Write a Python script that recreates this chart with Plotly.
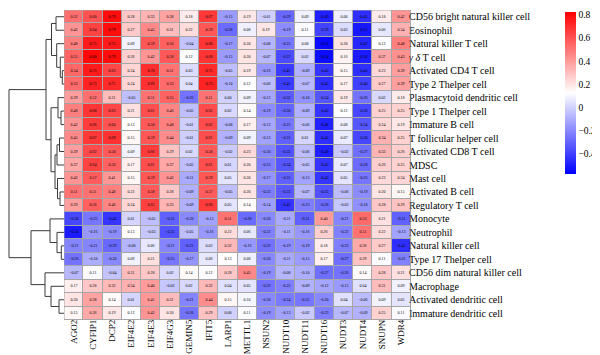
import plotly.graph_objects as go

genes = ["AGO2", "CYFIP1", "DCP2", "EIF4E2", "EIF4E3", "EIF4G3", "GEMIN5", "IFIT5", "LARP1",
         "METTL1", "NSUN2", "NUDT10", "NUDT11", "NUDT16", "NUDT3", "NUDT4", "SNUPN", "WDR4"]

cells = ["CD56 bright natural killer cell", "Eosinophil", "Natural killer T cell", "<i>γ δ</i> T cell",
         "Activated CD4 T cell", "Type 2 Thelper cell", "Plasmacytoid dendritic cell", "Type 1 Thelper cell",
         "Immature B cell", "T follicular helper cell", "Activated CD8 T cell", "MDSC", "Mast cell",
         "Activated B cell", "Regulatory T cell", "Monocyte", "Neutrophil", "Natural killer cell",
         "Type 17 Thelper cell", "CD56 dim natural killer cell", "Macrophage", "Activated dendritic cell",
         "Immature dendritic cell"]

cd56_bright = [0.52, 0.60, 0.79, 0.28, 0.33, 0.38, 0.18, 0.67, -0.15, 0.19, -0.01, -0.29, 0.09, -0.49, 0.08, -0.45, 0.18, 0.42]
eosinophil = [0.42, 0.64, 0.79, 0.27, 0.45, 0.31, 0.22, 0.59, -0.28, 0.08, 0.19, -0.19, 0.11, -0.39, 0.03, -0.51, 0.06, 0.34]
nkt = [0.48, 0.75, 0.75, 0.09, 0.59, 0.56, -0.04, 0.68, -0.17, 0.20, -0.08, -0.25, 0.08, -0.55, 0.20, -0.47, 0.12, 0.48]
gd_t = [0.55, 0.80, 0.79, 0.26, 0.42, 0.58, 0.12, 0.68, -0.15, 0.20, -0.07, -0.37, 0.02, -0.54, 0.16, -0.50, 0.37, 0.43]
act_cd4 = [0.54, 0.75, 0.63, 0.24, 0.70, 0.51, 0.03, 0.71, -0.05, 0.19, -0.16, -0.41, -0.09, -0.43, 0.15, -0.45, 0.23, 0.39]
th2 = [0.53, 0.73, 0.71, 0.24, 0.69, 0.53, 0.04, 0.73, -0.10, 0.12, -0.06, -0.41, -0.07, -0.45, 0.17, -0.40, 0.27, 0.39]
pdc = [0.39, 0.52, 0.31, -0.05, 0.51, 0.55, -0.26, 0.51, 0.00, 0.09, -0.12, -0.32, -0.18, -0.34, 0.19, -0.26, 0.02, 0.18]
th1 = [0.48, 0.68, 0.63, 0.21, 0.61, 0.46, -0.05, 0.62, 0.02, 0.14, -0.19, -0.30, -0.09, -0.43, 0.12, -0.38, 0.25, 0.25]
imm_b = [0.42, 0.66, 0.60, 0.13, 0.58, 0.48, -0.01, 0.62, -0.08, 0.17, -0.12, -0.25, -0.06, -0.48, 0.08, -0.34, 0.24, 0.19]
tfh = [0.45, 0.67, 0.69, 0.15, 0.59, 0.44, -0.01, 0.61, -0.09, 0.09, -0.13, -0.31, 0.01, -0.45, 0.07, -0.38, 0.34, 0.25]
act_cd8 = [0.39, 0.62, 0.58, 0.09, 0.66, 0.29, 0.02, 0.58, -0.02, 0.23, -0.20, -0.35, -0.06, -0.49, -0.02, -0.27, 0.33, 0.26]
mdsc = [0.37, 0.64, 0.56, 0.17, 0.61, 0.37, -0.05, 0.61, 0.01, 0.20, -0.23, -0.34, -0.05, -0.43, 0.07, -0.28, 0.26, 0.25]
mast = [0.42, 0.57, 0.41, 0.15, 0.59, 0.42, -0.11, 0.59, 0.05, 0.20, -0.17, -0.31, -0.13, -0.43, 0.05, -0.25, 0.23, 0.24]
act_b = [0.51, 0.51, 0.48, 0.22, 0.58, 0.28, -0.09, 0.57, -0.05, 0.20, -0.23, -0.33, -0.07, -0.35, -0.06, -0.19, 0.20, 0.15]
treg = [0.39, 0.56, 0.46, 0.24, 0.65, 0.33, -0.09, 0.66, 0.05, 0.14, -0.14, -0.43, -0.23, -0.28, -0.03, -0.18, 0.28, 0.29]
monocyte = [-0.38, -0.25, -0.43, 0.01, -0.05, -0.31, -0.20, -0.13, 0.51, -0.28, -0.20, -0.11, -0.31, 0.40, -0.21, 0.53, 0.21, -0.31]
neutrophil = [-0.50, -0.16, -0.19, 0.13, -0.03, -0.35, -0.05, -0.16, 0.22, 0.06, -0.22, -0.11, -0.16, 0.26, -0.22, 0.51, 0.22, -0.13]
nk = [-0.21, -0.21, -0.29, -0.08, 0.06, -0.21, -0.31, 0.03, 0.32, -0.16, -0.26, -0.19, -0.19, 0.18, -0.23, 0.36, 0.27, -0.45]
th17 = [-0.26, -0.10, -0.20, 0.09, 0.21, -0.25, -0.17, 0.06, 0.13, 0.08, -0.20, -0.11, -0.15, 0.17, -0.27, 0.29, 0.11, -0.22]
cd56_dim = [-0.07, 0.11, -0.04, 0.31, 0.28, 0.02, 0.14, 0.12, 0.28, 0.45, -0.19, -0.08, -0.10, -0.27, -0.26, 0.14, 0.28, 0.21]
macrophage = [0.17, 0.28, 0.32, 0.34, 0.40, -0.03, 0.02, 0.32, 0.04, 0.05, -0.26, -0.22, -0.09, -0.12, -0.15, 0.04, 0.31, 0.09]
act_dc = [0.20, 0.38, 0.14, 0.01, 0.41, 0.31, -0.21, 0.44, 0.15, 0.10, -0.20, -0.24, -0.25, -0.20, 0.04, -0.06, 0.09, 0.05]
imm_dc = [0.15, 0.36, 0.19, 0.12, 0.42, 0.20, -0.26, 0.29, 0.00, 0.11, -0.19, -0.13, -0.02, -0.23, -0.07, -0.09, 0.25, 0.11]

# row clustering tree: (merge height, left, right); ints are row indices
row_tree = (55,
            (18,
             (12.5, (8, 0, 1), (7.3, 2, (3.7, 3, (1.7, 4, 5)))),
             (13, (6, 6, (3, 7, 8)),
              (9, (7, (4.5, 9, 10), 11), (6.5, 12, (4, 13, 14))))),
            (33,
             (14, 15, (7, 16, (2.7, 17, 18))),
             (19, 19, (13, 20, (5, 21, 22)))))

colorbar_ticks = [-0.4, -0.2, 0, 0.2, 0.4, 0.6, 0.8]

z = [cd56_bright, eosinophil, nkt, gd_t, act_cd4, th2, pdc, th1, imm_b, tfh, act_cd8, mdsc, mast,
     act_b, treg, monocyte, neutrophil, nk, th17, cd56_dim, macrophage, act_dc, imm_dc]


def fmt(v):
    return f"{v:.2f}".replace("-", "\u2212")


def fmt_tick(v):
    if v == 0:
        return "0"
    return f"{v:g}".replace("-", "\u2212")


text = [[fmt(v) for v in row] for row in z]

W, H = 600, 355
HX0, HX1 = 56, 403
HY0, HY1 = 2, 312
FONT = "Liberation Serif"
GRID = "#a6a6a6"

fig = go.Figure()
fig.add_trace(go.Heatmap(
    z=z, x=list(range(len(genes))), y=list(range(len(cells))),
    colorscale=[[0, "#0000FF"], [0.5, "#FFFFFF"], [1, "#FF0000"]],
    zmin=-0.575, zmax=0.825, xgap=1, ygap=1,
    text=text, texttemplate="%{text}",
    textfont=dict(size=4, color="black", family=FONT),
    hoverinfo="skip",
    colorbar=dict(
        x=557 / W, xanchor="left", xpad=0,
        y=1 - 4 / H, yanchor="top", ypad=0,
        len=162, lenmode="pixels", thickness=11, thicknessmode="pixels",
        outlinewidth=0, ticks="", ticklen=0,
        tickmode="array", ticklabeloverflow="allow",
        tickvals=colorbar_ticks, ticktext=[fmt_tick(t) for t in colorbar_ticks],
        tickfont=dict(size=9.5, family=FONT, color="black"),
    ),
))

# dendrogram segments
seg_x, seg_y = [], []


def walk(node):
    if isinstance(node, int):
        return 0.0, float(node)
    h, a, b = node
    ha, ya = walk(a)
    hb, yb = walk(b)
    seg_x.extend([ha, h, h, hb, None])
    seg_y.extend([ya, ya, yb, yb, None])
    return h, (ya + yb) / 2


walk(row_tree)
fig.add_trace(go.Scatter(x=seg_x, y=seg_y, mode="lines", xaxis="x2", yaxis="y2",
                         line=dict(color="#3a3a3a", width=1), hoverinfo="skip", showlegend=False))

fig.add_shape(type="rect", xref="x", yref="y", x0=-0.5, x1=len(genes) - 0.5, y0=-0.5, y1=len(cells) - 0.5,
              line=dict(width=0), fillcolor=GRID, layer="below")
fig.add_shape(type="rect", xref="x", yref="y", x0=-0.5, x1=len(genes) - 0.5, y0=-0.5, y1=len(cells) - 0.5,
              line=dict(color=GRID, width=1))

fig.update_layout(
    width=W, height=H, margin=dict(l=0, r=0, t=0, b=0),
    paper_bgcolor="white", plot_bgcolor="white",
    font=dict(family=FONT, color="black", size=10),
    showlegend=False,
    xaxis=dict(domain=[HX0 / W, HX1 / W], range=[-0.5, len(genes) - 0.5],
               tickvals=list(range(len(genes))), ticktext=genes, tickangle=-90,
               ticks="", showgrid=False, zeroline=False, automargin=False,
               ticklabelstandoff=-3,
               tickfont=dict(size=9, family=FONT, color="black"), anchor="y"),
    yaxis=dict(domain=[1 - HY1 / H, 1 - HY0 / H], range=[len(cells) - 0.5, -0.5],
               tickvals=list(range(len(cells))), ticktext=cells, side="right",
               ticks="", showgrid=False, zeroline=False, automargin=False,
               ticklabelstandoff=-3,
               tickfont=dict(size=10, family=FONT, color="black"), anchor="x"),
    xaxis2=dict(domain=[0, HX0 / W], range=[56, 0], visible=False, anchor="y2"),
    yaxis2=dict(domain=[1 - HY1 / H, 1 - HY0 / H], range=[len(cells) - 0.5, -0.5], visible=False, anchor="x2"),
)

fig.write_html("out.html")
